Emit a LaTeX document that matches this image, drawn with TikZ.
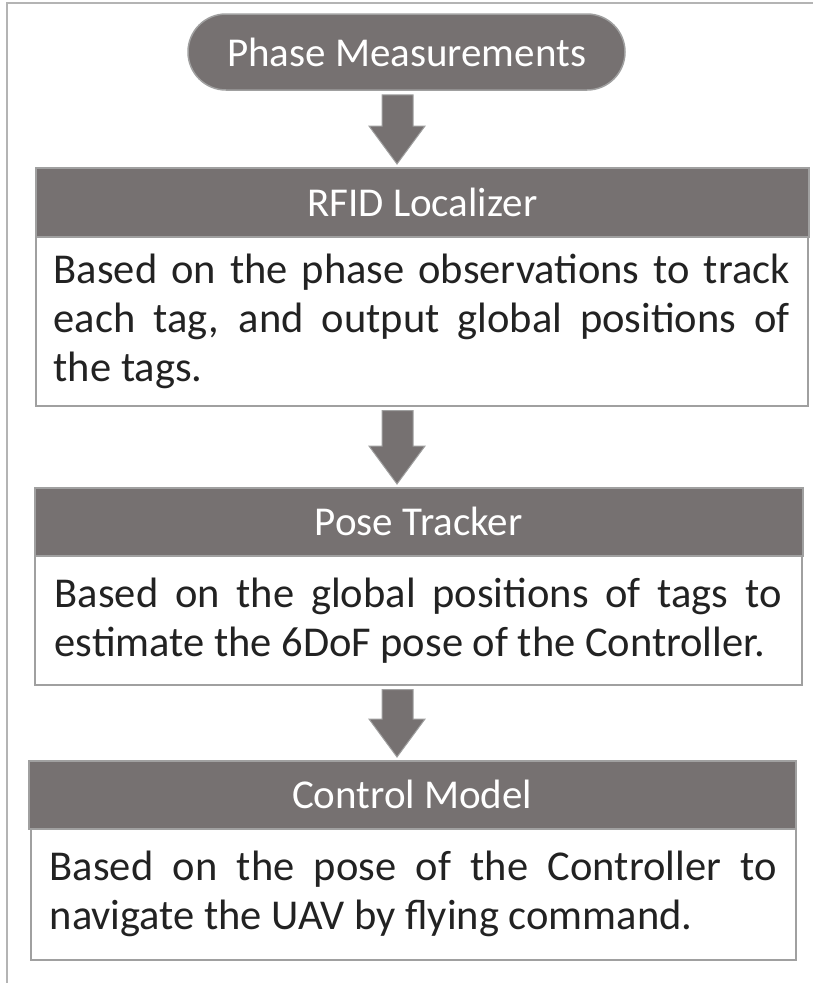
\documentclass[tikz,border=0pt]{standalone}
\usepackage{fontspec}
\setmainfont{Carlito}
\usepackage{xcolor}
\usetikzlibrary{positioning, calc}
\definecolor{boxgray}{HTML}{767171}
\definecolor{edgegray}{HTML}{A0A0A0}
\definecolor{framegray}{HTML}{B4B4B4}
\definecolor{textdark}{HTML}{222222}
\tolerance=10000
\hyphenpenalty=10000

\begin{document}
\begin{tikzpicture}[x=1pt, y=-1pt,
  title/.style={draw=edgegray, line width=1.5pt, fill=boxgray, text=white, inner sep=0pt, font=\fontsize{41}{48}\selectfont},
  body/.style={draw=edgegray, line width=1.5pt, fill=white, text=textdark, inner sep=0pt, align=justify, font=\fontsize{42.5}{49}\selectfont},
  blockarrow/.style={draw=edgegray, line width=1pt, fill=boxgray}]
\useasboundingbox (0,0) rectangle (813,983);
\draw[framegray, line width=2pt] (7,983) -- (7,3) -- (813,3);

\node[title, rounded corners=38pt, minimum width=437pt, minimum height=76pt] (phase) at (406.5,52) {Phase Measurements};

\node[title, anchor=north west, minimum width=773pt, minimum height=69pt] (locHead) at (35,167) {RFID Localizer};
\node[body, anchor=north west, minimum width=772pt, minimum height=169pt, text width=736pt] (locBody) at (35,236)
  {Based on the phase observations to track\linebreak each tag, and output global positions of\linebreak the tags.};

\node[title, anchor=north west, minimum width=768pt, minimum height=68pt] (poseHead) at (34,487) {Pose Tracker};
\node[body, anchor=north west, minimum width=767pt, minimum height=129pt, text width=727pt] (poseBody) at (34,555)
  {Based on the global positions of tags to\linebreak estimate the 6DoF pose of the Controller.};

\node[title, anchor=north west, minimum width=767pt, minimum height=68pt] (ctrlHead) at (28,760) {Control Model};
\node[body, anchor=north west, minimum width=765pt, minimum height=131pt, text width=727pt] (ctrlBody) at (30,828)
  {Based on the pose of the Controller to\linebreak navigate the UAV by flying command.};

\foreach \a/\b in {phase/locHead, locBody/poseHead, poseBody/ctrlHead}
  \draw[blockarrow] let \p1=(\a.south), \p2=(\b.north) in
    (382pt,\y1-4pt) -- (413pt,\y1-4pt) -- (413pt,\y2+41pt) -- (425pt,\y2+41pt)
    -- (397pt,\y2+3pt) -- (369pt,\y2+41pt) -- (382pt,\y2+41pt) -- cycle;
\end{tikzpicture}
\end{document}
